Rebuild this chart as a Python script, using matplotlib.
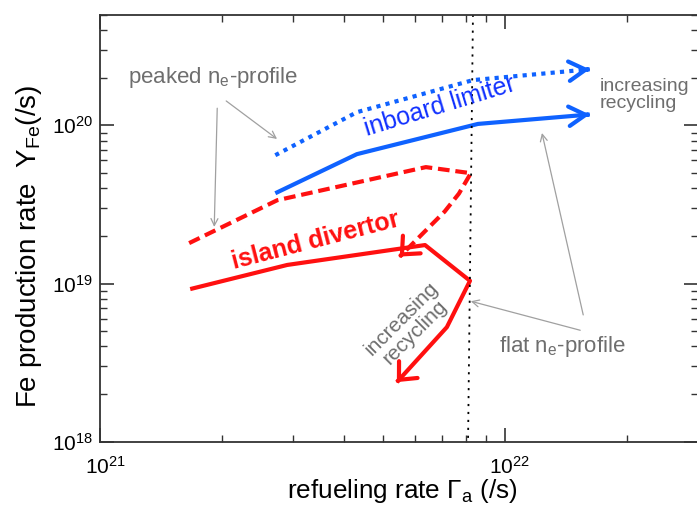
import numpy as np
import matplotlib
matplotlib.use('Agg')
import matplotlib.pyplot as plt
from matplotlib.transforms import ScaledTranslation

plt.rcParams['font.family'] = ['Liberation Sans', 'DejaVu Sans']
plt.rcParams['mathtext.fontset'] = 'custom'
plt.rcParams['mathtext.rm'] = 'Liberation Sans'
plt.rcParams['mathtext.it'] = 'Liberation Sans:italic'
plt.rcParams['mathtext.bf'] = 'Liberation Sans:bold'

# ---- data ----
# inboard limiter, peaked n_e profile (dotted)
lim_peak_x = [2.71e21, 4.31e21, 8.34e21, 1.62e22]
lim_peak_y = [6.47e19, 1.21e20, 1.93e20, 2.26e20]
# inboard limiter, flat n_e profile (solid)
lim_flat_x = [2.71e21, 4.31e21, 8.58e21, 1.62e22]
lim_flat_y = [3.72e19, 6.57e19, 1.02e20, 1.17e20]
# island divertor, peaked n_e profile (dashed)
div_peak_x = [1.66e21, 2.74e21, 6.38e21, 8.24e21, 7.70e21, 7.10e21, 5.50e21]
div_peak_y = [1.80e19, 3.36e19, 5.44e19, 4.98e19, 3.70e19, 2.85e19, 1.48e19]
# island divertor, flat n_e profile (solid)
div_flat_x = [1.67e21, 2.90e21, 6.35e21, 8.20e21, 7.19e21, 5.41e21]
div_flat_y = [9.22e18, 1.31e19, 1.75e19, 1.04e19, 5.30e18, 2.38e18]
# vertical marker
vline_x = [8.34e21, 8.11e21]
vline_y = [5e20, 1e18]

xlim = (1e21, 3e22)
ylim = (1e18, 5e20)

blue = '#0f62ff'
red = '#ff1010'
grey = '#6e6e6e'
arrow_grey = '#a0a0a0'

fig = plt.figure(figsize=(6.97, 5.05), dpi=100)
ax = fig.add_axes([0.1435, 0.1253, 0.858, 0.8456])
ax.set_xscale('log')
ax.set_yscale('log')
ax.set_xlim(*xlim)
ax.set_ylim(*ylim)


def path_with_head(x, y, color, ls, dashes=None, hl=12, hw=7):
    kw = dict(color=color, lw=3, solid_capstyle='butt', dash_capstyle='butt')
    if dashes is not None:
        kw['dashes'] = dashes
    else:
        kw['ls'] = ls
    ax.plot(x, y, **kw)
    # arrow head along the last segment
    lx = np.log10(x[-2:])
    ly = np.log10(y[-2:])
    bx = 10 ** (lx[1] - 0.02 * (lx[1] - lx[0]))
    by = 10 ** (ly[1] - 0.02 * (ly[1] - ly[0]))
    ax.annotate('', xy=(x[-1], y[-1]), xytext=(bx, by),
                arrowprops=dict(arrowstyle=f'->,head_length={hl / 10},head_width={hw / 10}',
                                lw=3, color=color, shrinkA=0, shrinkB=0,
                                mutation_scale=10))


path_with_head(lim_peak_x, lim_peak_y, blue, ':', dashes=(1.0, 1.25), hl=12, hw=7)
path_with_head(lim_flat_x, lim_flat_y, blue, '-', hl=12, hw=7)
path_with_head(div_peak_x, div_peak_y, red, '--', dashes=(2.8, 1.4), hl=10, hw=9)
path_with_head(div_flat_x, div_flat_y, red, '-', hl=10, hw=9)

ax.plot(vline_x, vline_y, color='black', lw=1.3, dashes=(1.2, 3.2))

# ---- axes styling ----
for s in ax.spines.values():
    s.set_linewidth(1.3)
    s.set_color('#333333')
ax.tick_params(which='both', direction='in', top=True, right=True,
               labelsize=15, colors='#333333', labelcolor='black')
ax.tick_params(which='major', length=10, width=1.2)
ax.tick_params(which='minor', length=5, width=1.0)
ax.tick_params(axis='x', which='major', pad=10)
ax.tick_params(axis='y', which='major', pad=5)
shift = ScaledTranslation(5 / 100, 0, fig.dpi_scale_trans)
for lab in ax.get_xticklabels():
    lab.set_transform(lab.get_transform() + shift)

ax.set_xlabel(r'refueling rate $\Gamma_{\mathrm{a}}$ (/s)', fontsize=18.8)
ax.set_ylabel(r'Fe production rate  Y$_{\mathrm{Fe}}$(/s)', fontsize=20)
ax.xaxis.set_label_coords(0.506, -0.082)
ax.yaxis.set_label_coords(-0.094, 0.458)

# ---- annotations ----
tf = ax.transAxes
ax.text(0.189, 0.852, r'peaked n$_{\mathrm{e}}$-profile', transform=tf,
        fontsize=16, color=grey, ha='center', va='center')
ax.text(0.773, 0.222, r'flat n$_{\mathrm{e}}$-profile', transform=tf,
        fontsize=16, color=grey, ha='center', va='center')
ax.text(0.836, 0.812, 'increasing\nrecycling', transform=tf, fontsize=14,
        color=grey, ha='left', va='center', linespacing=1.05)
ax.text(0.515, 0.272, 'increasing\nrecycling', transform=tf, fontsize=15,
        color=grey, ha='center', va='center', rotation=45, linespacing=1.0)
ax.text(0.569, 0.786, 'inboard limiter', transform=tf, fontsize=18,
        color='#1030ff', ha='center', va='center', rotation=17)
ax.text(0.36, 0.47, 'island divertor', transform=tf, fontsize=18,
        color=red, fontweight='bold', ha='center', va='center', rotation=14.5)

aprops = dict(arrowstyle='->,head_length=0.5,head_width=0.25', color=arrow_grey,
              lw=0.9, shrinkA=0, shrinkB=0)
ax.annotate('', xy=(0.191, 0.503), xytext=(0.196, 0.781), xycoords=tf,
            textcoords=tf, arrowprops=aprops)
ax.annotate('', xy=(0.296, 0.709), xytext=(0.211, 0.798), xycoords=tf,
            textcoords=tf, arrowprops=aprops)
ax.annotate('', xy=(0.620, 0.329), xytext=(0.803, 0.261), xycoords=tf,
            textcoords=tf, arrowprops=aprops)
ax.annotate('', xy=(0.739, 0.723), xytext=(0.808, 0.297), xycoords=tf,
            textcoords=tf, arrowprops=aprops)

fig.savefig('out.png', dpi=100)
